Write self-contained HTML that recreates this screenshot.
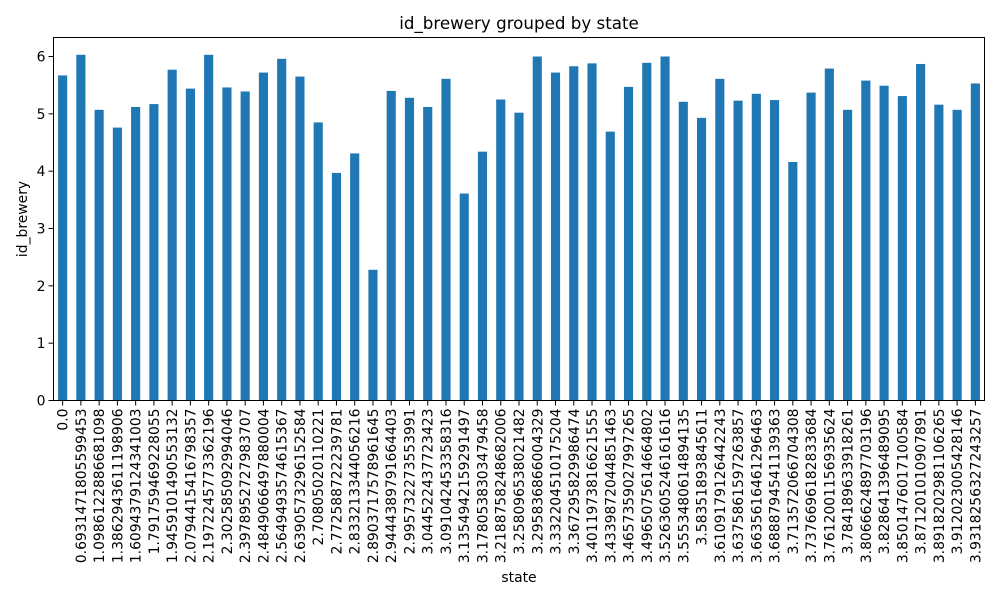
<!DOCTYPE html>
<html><head><meta charset="utf-8"><style>
body{margin:0;background:#fff}
svg{display:block;font-family:"DejaVu Sans","Liberation Sans",sans-serif}
</style></head><body>
<svg id="chart" width="1000" height="600" viewBox="0 0 1000 600">
<rect width="1000" height="600" fill="#fff"/>
<text x="519" y="29" font-size="16.7" text-anchor="middle">id_brewery grouped by state</text>
<text x="0" y="0" font-size="13.9" text-anchor="middle" transform="translate(27,219) rotate(-90)">id_brewery</text>
<text x="519" y="582" font-size="13.9" text-anchor="middle">state</text>
<g id="bars"></g><g id="yticks"></g><g id="xticks"></g>
<rect x="53.5" y="37.5" width="931" height="363" fill="none" stroke="#000" stroke-width="1"/>
</svg>
<script>
const categories=["0.0","0.6931471805599453","1.0986122886681098","1.3862943611198906","1.6094379124341003","1.791759469228055","1.9459101490553132","2.0794415416798357","2.1972245773362196","2.302585092994046","2.3978952727983707","2.4849066497880004","2.5649493574615367","2.6390573296152584","2.70805020110221","2.772588722239781","2.833213344056216","2.8903717578961645","2.9444389791664403","2.995732273553991","3.044522437723423","3.091042453358316","3.1354942159291497","3.1780538303479458","3.2188758248682006","3.258096538021482","3.295836866004329","3.332204510175204","3.367295829986474","3.4011973816621555","3.4339872044851463","3.4657359027997265","3.4965075614664802","3.5263605246161616","3.5553480614894135","3.58351893845611","3.6109179126442243","3.6375861597263857","3.6635616461296463","3.6888794541139363","3.713572066704308","3.7376696182833684","3.7612001156935624","3.784189633918261","3.8066624897703196","3.828641396489095","3.8501476017100584","3.871201010907891","3.8918202981106265","3.912023005428146","3.9318256327243257"];
const values=[5.67,6.03,5.07,4.76,5.12,5.17,5.77,5.44,6.03,5.46,5.39,5.72,5.96,5.65,4.85,3.97,4.31,2.28,5.40,5.28,5.12,5.61,3.61,4.34,5.25,5.02,6.00,5.72,5.83,5.88,4.69,5.47,5.89,6.00,5.21,4.93,5.61,5.23,5.35,5.24,4.16,5.37,5.79,5.07,5.58,5.49,5.31,5.87,5.16,5.07,5.53];
const yTicks=[0,1,2,3,4,5,6];
const NS="http://www.w3.org/2000/svg";
const X0=53.5,X1=984.5,Y0=400.5,YT=37.5,ymax=6.3315;
const n=categories.length, step=(X1-X0)/n;
function xc(i){return X0+step*(i+0.5);}
function y(v){return Y0-(Y0-YT)*v/ymax;}
const bars=document.getElementById('bars'),xt=document.getElementById('xticks'),yt=document.getElementById('yticks');
values.forEach((v,i)=>{
 const r=document.createElementNS(NS,'rect');
 r.setAttribute('x',xc(i)-step/4);r.setAttribute('width',step/2);
 r.setAttribute('y',y(v));r.setAttribute('height',y(0)-y(v));r.setAttribute('fill','#1f77b4');
 
 
 bars.appendChild(r);
});
categories.forEach((c,i)=>{
 const l=document.createElementNS(NS,'line');
 l.setAttribute('x1',xc(i));l.setAttribute('x2',xc(i));l.setAttribute('y1',Y0);l.setAttribute('y2',Y0+5);l.setAttribute('stroke','#000');
 
 
 xt.appendChild(l);
 const t=document.createElementNS(NS,'text');
 t.setAttribute('transform','translate('+(xc(i)+5)+','+(Y0+8)+') rotate(-90)');
 t.setAttribute('text-anchor','end');t.setAttribute('font-size','13.9');t.textContent=c;
 
 
 xt.appendChild(t);
});
yTicks.forEach(v=>{
 const l=document.createElementNS(NS,'line');
 l.setAttribute('x1',X0-5);l.setAttribute('x2',X0);l.setAttribute('y1',y(v));l.setAttribute('y2',y(v));l.setAttribute('stroke','#000');
 
 
 yt.appendChild(l);
 const t=document.createElementNS(NS,'text');
 t.setAttribute('x',X0-8);t.setAttribute('y',y(v)+5);t.setAttribute('text-anchor','end');t.setAttribute('font-size','13.9');t.textContent=v;
 
 
 yt.appendChild(t);
});
</script>
</body></html>
